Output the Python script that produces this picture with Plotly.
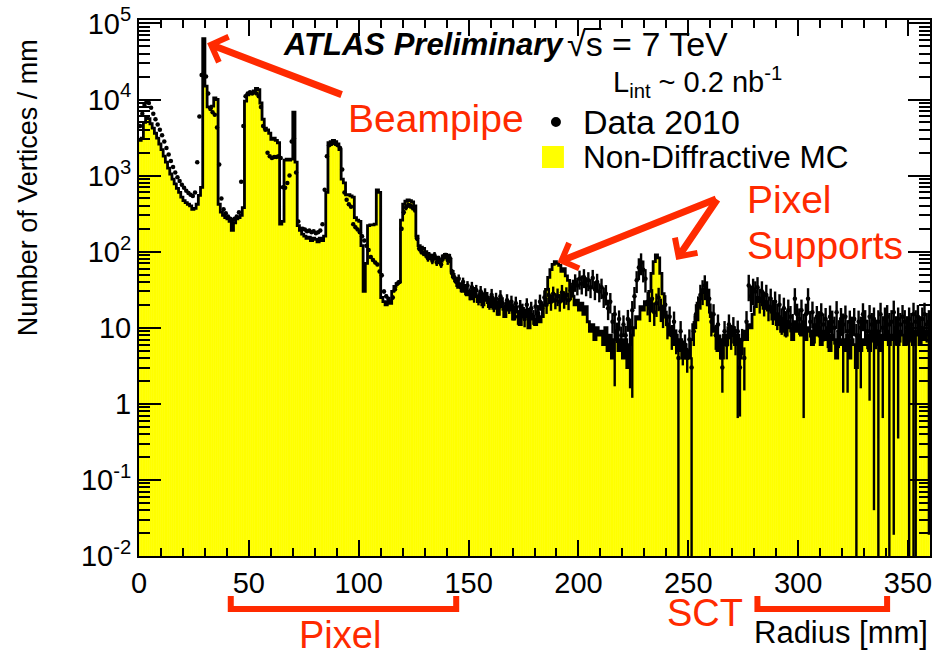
import plotly.graph_objects as go

# 1 mm radial bins from 0 to 360 mm
bin_edges_mm = list(range(0, 361))

# Non-diffractive MC, vertices per mm
mc_nd = [
    2900, 3100, 5000, 5800, 5600, 4800, 4200, 3600, 3100, 2600,
    2200, 1800, 1500, 1250, 1050, 900, 780, 680, 600, 520,
    470, 440, 420, 400, 360, 370, 420, 550, 700, 63000,
    15000, 8000, 7800, 8200, 10500, 10000, 420, 330, 300, 280,
    270, 250, 190, 240, 270, 280, 300, 380, 9500, 11500,
    12000, 12500, 13000, 14000, 13500, 9000, 5500, 4200, 4000, 3600,
    3000, 3100, 2900, 2700, 230, 250, 1600, 1650, 1600, 1650,
    6800, 1500, 220, 190, 170, 160, 150, 155, 140, 150,
    145, 135, 150, 140, 160, 600, 2700, 2800, 2900, 2800,
    2600, 2200, 900, 800, 560, 560, 540, 520, 280, 260,
    250, 120, 30, 70, 220, 225, 225, 230, 650, 600,
    25, 22, 20, 22, 21, 30, 35, 38, 40, 260,
    420, 460, 480, 470, 450, 400, 160, 120, 115, 110,
    100, 95, 85, 90, 80, 85, 72, 75, 88, 92,
    90, 80, 55, 45, 40, 34, 38, 30, 36, 27,
    30, 24, 33, 26, 22, 29, 20, 27, 23, 19,
    25, 18, 22, 15, 24, 19, 14, 21, 17, 20,
    13, 19, 16, 11, 18, 14, 17, 10, 15, 13,
    11, 15, 12, 14, 20, 32, 46, 58, 68, 74,
    70, 66, 55, 60, 48, 42, 30, 26, 20, 23,
    17, 21, 15, 19, 12, 9, 11, 7, 10, 8,
    9, 6, 10, 5, 8, 4, 7, 9, 5, 7,
    4, 7, 3, 6, 8, 10, 14, 13, 19, 17,
    22, 20, 30, 52, 74, 91, 83, 52, 28, 16,
    11, 8, 10, 6, 8, 5, 7, 4, 6, 5,
    4, 7, 11, 14, 21, 24, 29, 32, 27, 20,
    14, 9, 10, 5, 7, 4, 8, 6, 10, 8,
    10, 6, 8, 4, 7, 9, 7, 11, 10, 15,
    19, 25, 22, 24, 18, 22, 17, 19, 13, 15,
    11, 14, 9, 13, 8, 12, 10, 7, 12, 9,
    11, 8, 12, 7, 10, 9, 6, 11, 8, 10,
    6, 9, 7, 10, 5, 8, 7, 4, 9, 6,
    7, 5, 8, 4, 7, 6, 3, 8, 5, 7,
    6, 8, 5, 9, 7, 6, 9, 5, 8, 7,
    9, 6, 8, 7, 10, 6, 9, 8, 6, 9,
    7, 10, 6, 9, 8, 6, 10, 7, 9, 8,
]

# Data 2010, vertices per mm
data_2010 = [
    4500, 6500, 8500, 9500, 9000, 7800, 6500, 5500, 4700, 4000,
    3400, 2800, 2300, 1900, 1550, 1300, 1100, 950, 850, 760,
    690, 630, 590, 560, 540, 600, 1500, 6000, 21000, 22000,
    20000, 12000, 7500, 6800, 6300, 4300, 1400, 500, 360, 320,
    290, 270, 260, 270, 290, 330, 830, 4500, 11000, 12000,
    12500, 12000, 12500, 12000, 11000, 8000, 4500, 4000, 2000, 1800,
    1700, 1750, 1750, 1800, 1700, 700, 690, 800, 1000, 2800,
    3100, 1100, 250, 200, 200, 195, 185, 190, 180, 185,
    175, 180, 190, 230, 650, 1800, 2500, 2600, 2700, 2600,
    2500, 2300, 1200, 600, 480, 420, 390, 230, 210, 195,
    180, 160, 140, 120, 105, 85, 78, 72, 68, 55,
    49, 30, 26, 24, 22, 25, 32, 38, 40, 200,
    330, 380, 410, 400, 380, 355, 150, 110, 100, 95,
    92, 82, 86, 76, 90, 72, 80, 68, 84, 88,
    78, 82, 52, 46, 40, 44, 34, 40, 31, 36,
    28, 34, 26, 31, 24, 30, 22, 28, 25, 21,
    27, 20, 24, 18, 26, 21, 17, 23, 19, 22,
    16, 21, 14, 19, 17, 13, 20, 15, 18, 14,
    19, 16, 22, 18, 25, 20, 27, 22, 28, 23,
    26, 22, 29, 24, 27, 23, 31, 34, 40, 36,
    44, 38, 46, 36, 42, 34, 45, 32, 40, 30,
    34, 26, 28, 18, 22, 12, 15, 9, 13, 8,
    11, 8, 13, 10, 17, 26, 42, 62, 72, 58,
    44, 22, 18, 24, 16, 21, 25, 18, 15, 20,
    11, 14, 8, 12, 7, 4, 9, 5, 6, 4,
    7, 3, 9, 15, 19, 27, 31, 36, 30, 24,
    12, 15, 8, 11, 6, 3, 9, 6, 11, 8,
    10, 7, 9, 3, 7, 4, 12, 36, 26, 32,
    30, 34, 24, 30, 22, 27, 19, 24, 17, 22,
    15, 20, 13, 18, 12, 17, 14, 11, 24, 15,
    13, 17, 11, 15, 24, 12, 16, 10, 14, 12,
    15, 11, 13, 9, 14, 12, 10, 16, 9, 13,
    11, 14, 9, 12, 10, 13, 8, 12, 10, 15,
    12, 9, 14, 11, 13, 9, 12, 15, 10, 13,
    14, 11, 12, 16, 10, 13, 11, 14, 12, 10,
    13, 11, 15, 12, 14, 10, 13, 15, 11, 12,
]

# Relative statistical uncertainty of the data, one value per 10 mm slice
data_rel_err = [
    0.02, 0.02, 0.02, 0.02, 0.02, 0.02, 0.02, 0.03, 0.03, 0.04,
    0.05, 0.06, 0.08, 0.10, 0.14, 0.18, 0.20, 0.22, 0.24, 0.26,
    0.28, 0.30, 0.32, 0.34, 0.36, 0.36, 0.36, 0.38, 0.36, 0.38,
    0.38, 0.40, 0.40, 0.42, 0.42, 0.42,
]

# Sparse bins: lower end of the data error bar (0 = reaches the axis)
data_err_floor = {
    216: 1.7, 223: 1.6, 224: 1.2, 245: 0, 251: 0, 265: 1.4, 272: 0.65,
    273: 0.68, 275: 1.5, 302: 0.65, 320: 1.4, 322: 1.4, 326: 0, 328: 1.6,
    332: 1.1, 334: 0.04, 336: 0, 338: 0.65, 341: 0, 343: 0.019,
    345: 0.35, 350: 0, 352: 0, 353: 0, 359: 0.019,
}

x_ticks = [0, 50, 100, 150, 200, 250, 300, 350]
y_tick_vals = [1e-2, 1e-1, 1, 10, 1e2, 1e3, 1e4, 1e5]
y_tick_text = ["10<sup>-2</sup>", "10<sup>-1</sup>", "1", "10",
               "10<sup>2</sup>", "10<sup>3</sup>", "10<sup>4</sup>", "10<sup>5</sup>"]

FONT = "Liberation Sans, Arial, Helvetica, sans-serif"
RED = "#ff2a00"
YELLOW = "#ffff00"

centers = [(a + b) / 2 for a, b in zip(bin_edges_mm[:-1], bin_edges_mm[1:])]
err_up, err_lo = [], []
for i, v in enumerate(data_2010):
    r = data_rel_err[i // 10]
    err_up.append(v * r)
    if i in data_err_floor:
        err_lo.append(v - data_err_floor[i])
    else:
        err_lo.append(v * r)

fig = go.Figure()

# MC: yellow filled histogram with black outline
fig.add_trace(go.Bar(
    x=centers, y=mc_nd, width=1.0,
    marker=dict(color=YELLOW, line=dict(color=YELLOW, width=0.6)),
    hoverinfo="skip",
))
fig.add_trace(go.Scatter(
    x=bin_edges_mm, y=mc_nd + [mc_nd[-1]], mode="lines",
    line=dict(color="black", width=2.8, shape="hv"),
    hoverinfo="skip",
))

# Data points with error bars
fig.add_trace(go.Scatter(
    x=centers, y=data_2010, mode="markers",
    marker=dict(color="black", size=4.5),
    error_y=dict(type="data", symmetric=False, array=err_up, arrayminus=err_lo,
                 color="black", thickness=2.4, width=0),
))

# paper-coordinate helpers for the decoration layout (plot area 139..932 x 20..556 px)
PL, PR, PT, PB = 139, 932, 20, 556


def px(xp):
    return (xp - PL) / (PR - PL)


def py(yp):
    return (PB - yp) / (PB - PT)


annotations = [
    dict(text="<b><i>ATLAS Preliminary</i></b>", x=px(281), y=py(44), xanchor="left",
         yanchor="middle", font=dict(size=31, color="black")),
    dict(text="\u221as = 7 TeV", x=px(566), y=py(44), xanchor="left",
         yanchor="middle", font=dict(size=34, color="black")),
    dict(text="L<sub>int</sub> ~ 0.2 nb<sup>-1</sup>", x=px(612), y=py(82), xanchor="left",
         yanchor="middle", font=dict(size=29, color="black")),
    dict(text="Data 2010", x=px(582), y=py(122), xanchor="left",
         yanchor="middle", font=dict(size=34, color="black")),
    dict(text="Non-Diffractive MC", x=px(582), y=py(157), xanchor="left",
         yanchor="middle", font=dict(size=31.5, color="black")),
    dict(text="Beampipe", x=px(347), y=py(119), xanchor="left",
         yanchor="middle", font=dict(size=39, color=RED)),
    dict(text="Pixel", x=px(747), y=py(200), xanchor="left",
         yanchor="middle", font=dict(size=39, color=RED)),
    dict(text="Supports", x=px(747), y=py(245), xanchor="left",
         yanchor="middle", font=dict(size=39, color=RED)),
    dict(text="Pixel", x=px(341), y=py(635), xanchor="center",
         yanchor="middle", font=dict(size=38, color=RED)),
    dict(text="SCT", x=px(706), y=py(613), xanchor="center",
         yanchor="middle", font=dict(size=38, color=RED)),
    dict(text="Radius [mm]", x=px(932), y=py(632), xanchor="right",
         yanchor="middle", font=dict(size=31, color="black")),
    dict(text="Number of Vertices / mm", x=px(28), y=py(188), xanchor="center",
         yanchor="middle", textangle=-90, font=dict(size=27, color="black")),
]
for a in annotations:
    a.update(xref="paper", yref="paper", showarrow=False)

# red arrows, tips placed in data coordinates (mm, log10 value)
arrow_style = dict(showarrow=True, arrowhead=4, arrowsize=0.75, arrowwidth=7,
                   arrowcolor=RED, axref="pixel", ayref="pixel", text="",
                   xref="x", yref="y")
annotations += [
    dict(x=31.0, y=4.74, ax=136, ay=52, **arrow_style),
    dict(x=190.5, y=1.86, ax=160, ay=-64, **arrow_style),
    dict(x=244.5, y=1.89, ax=42, ay=-62, **arrow_style),
]

shapes = [
    # legend symbols
    dict(type="circle", xref="paper", yref="paper", x0=px(552), x1=px(562),
         y0=py(127), y1=py(117), fillcolor="black", line=dict(width=0)),
    dict(type="rect", xref="paper", yref="paper", x0=px(543), x1=px(565),
         y0=py(168), y1=py(146), fillcolor=YELLOW, line=dict(width=0)),
    # overline of the square root
    dict(type="line", xref="paper", yref="paper", x0=px(585), x1=px(603),
         y0=py(29), y1=py(29), line=dict(color="black", width=2)),
    # detector brackets under the axis
    dict(type="path", xref="paper", yref="paper",
         path=f"M {px(231)},{py(596)} L {px(231)},{py(609)} L {px(457)},{py(609)} L {px(457)},{py(596)}",
         line=dict(color=RED, width=6)),
    dict(type="path", xref="paper", yref="paper",
         path=f"M {px(759)},{py(596)} L {px(759)},{py(609)} L {px(889)},{py(609)} L {px(889)},{py(596)}",
         line=dict(color=RED, width=6)),
]

minor_y = [m * 10 ** e for e in range(-2, 5) for m in range(2, 10)]

fig.update_layout(
    width=935, height=656,
    margin=dict(l=PL, r=935 - PR, t=PT, b=656 - PB),
    paper_bgcolor="white", plot_bgcolor="white",
    font=dict(family=FONT, color="black"),
    bargap=0, showlegend=False,
    annotations=annotations, shapes=shapes,
)
fig.update_xaxes(
    range=[0, 360], tickvals=x_ticks, ticks="inside", ticklen=16, tickwidth=1.5,
    tickcolor="black", showline=True, linecolor="black", linewidth=2, mirror="allticks",
    showgrid=False, zeroline=False, tickfont=dict(size=29, family=FONT),
    minor=dict(dtick=10, tick0=0, ticks="inside", ticklen=8, tickcolor="black", showgrid=False),
)
fig.update_yaxes(
    type="log", range=[-2, 5.045], tickvals=y_tick_vals, ticktext=y_tick_text,
    ticks="inside", ticklen=22, tickwidth=1.5, tickcolor="black", showline=True,
    linecolor="black", linewidth=2, mirror="allticks", showgrid=False, zeroline=False,
    tickfont=dict(size=29, family=FONT),
    minor=dict(tickvals=minor_y, ticks="inside", ticklen=11, tickcolor="black", showgrid=False),
)

fig.write_html("out.html")
